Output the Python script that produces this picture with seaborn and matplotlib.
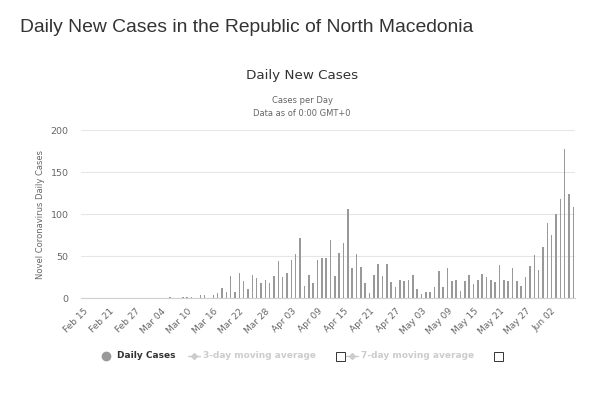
import pandas as pd
import matplotlib.pyplot as plt
import seaborn as sns
from matplotlib.lines import Line2D
from matplotlib.patches import Rectangle

sns.set_theme(style='white')
plt.rcParams['font.family'] = ['DejaVu Sans']

# -------------------------------------------------------------
# DATA - daily new cases, Feb 15 .. Jun 07 (2020)
# -------------------------------------------------------------
dates = pd.date_range('2020-02-15', '2020-06-07', freq='D').strftime('%b %d').tolist()

cases = [0, 0, 0, 0, 0, 0, 0, 0, 0, 0,
         0, 0, 0, 0, 0, 0, 0, 0, 0, 0,
         1, 0, 0, 1, 1, 1, 0, 4, 4, 0,
         4, 6, 12, 7, 26, 8, 30, 21, 11, 28,
         24, 18, 22, 18, 26, 44, 25, 30, 46, 53,
         72, 15, 28, 18, 46, 48, 48, 69, 26, 54,
         66, 106, 36, 53, 37, 18, 6, 28, 41, 26,
         41, 19, 13, 22, 21, 22, 28, 11, 5, 7,
         7, 13, 32, 14, 36, 20, 22, 9, 20, 28,
         17, 22, 29, 25, 22, 19, 40, 22, 20, 36,
         21, 15, 25, 38, 51, 34, 61, 89, 75, 100,
         118, 178, 124, 109]

tick_labels = ['Feb 15', 'Feb 21', 'Feb 27', 'Mar 04', 'Mar 10', 'Mar 16',
               'Mar 22', 'Mar 28', 'Apr 03', 'Apr 09', 'Apr 15', 'Apr 21',
               'Apr 27', 'May 03', 'May 09', 'May 15', 'May 21', 'May 27',
               'Jun 02']
y_ticks = [0, 50, 100, 150, 200]

df = pd.DataFrame({'date': dates, 'cases': cases})

# -------------------------------------------------------------
# FIGURE
# -------------------------------------------------------------
W, H = 607, 396
fig = plt.figure(figsize=(W / 100, H / 100), dpi=100)
ax = fig.add_axes([81 / W, 1 - 298.3 / H, (575.5 - 81) / W, (298.3 - 130) / H])

sns.barplot(data=df, x='date', y='cases', color='#999999', saturation=1,
            width=0.36, linewidth=0, ax=ax)

ax.set_xlim(-0.5, len(dates) - 0.5)
ax.set_ylim(0, 200)
ax.set_yticks(y_ticks)
ax.set_yticklabels([str(v) for v in y_ticks], fontsize=6.8, color='#666666')
ax.yaxis.grid(True, color='#e6e6e6', linewidth=0.8)
ax.set_axisbelow(True)

tick_pos = [dates.index(t) for t in tick_labels]
ax.set_xticks(tick_pos)
ax.set_xticklabels(tick_labels, fontsize=6.5, color='#666666',
                   rotation=45, ha='right', rotation_mode='anchor')
ax.tick_params(axis='x', length=0, pad=6)
ax.tick_params(axis='y', length=0, pad=9)

for s in ['top', 'right', 'left']:
    ax.spines[s].set_visible(False)
ax.spines['bottom'].set_color('#d0d0d0')
ax.spines['bottom'].set_linewidth(0.8)

ax.set_xlabel('')
ax.set_ylabel('Novel Coronavirus Daily Cases', fontsize=6, color='#666666', labelpad=4)

# -------------------------------------------------------------
# TITLES
# -------------------------------------------------------------
fig.text(20 / W, 1 - 27 / H, 'Daily New Cases in the Republic of North Macedonia',
         fontsize=13.9, color='#333333', family='Liberation Sans', va='center', ha='left')
fig.text(302 / W, 1 - 75 / H, 'Daily New Cases', fontsize=9.7, color='#333333',
         ha='center', va='center')
fig.text(302 / W, 1 - 101 / H, 'Cases per Day', fontsize=6, color='#666666',
         ha='center', va='center')
fig.text(302 / W, 1 - 113 / H, 'Data as of 0:00 GMT+0', fontsize=6, color='#666666',
         ha='center', va='center')

# -------------------------------------------------------------
# LEGEND
# -------------------------------------------------------------
ly = 1 - 356 / H
fig.add_artist(Line2D([106 / W], [ly], transform=fig.transFigure, marker='o',
                      markersize=6, color='#999999', linestyle='none'))
fig.text(117 / W, ly, 'Daily Cases', fontsize=6.5, fontweight='bold',
         color='#333333', va='center')

for x0, label, box_x in [(188, '3-day moving average', 336),
                         (346, '7-day moving average', 494)]:
    fig.add_artist(Line2D([x0 / W, (x0 + 12) / W], [ly, ly], transform=fig.transFigure,
                          color='#cccccc', linewidth=1))
    fig.add_artist(Line2D([(x0 + 6) / W], [ly], transform=fig.transFigure, marker='D',
                          markersize=3, color='#cccccc'))
    fig.text((x0 + 15) / W, ly, label, fontsize=6.5, fontweight='bold',
             color='#cccccc', va='center')
    fig.add_artist(Rectangle((box_x / W, ly - 5 / H), 9 / W, 9 / H, transform=fig.transFigure,
                             fill=False, edgecolor='#333333', linewidth=0.7))

fig.savefig('out.png', dpi=100)
